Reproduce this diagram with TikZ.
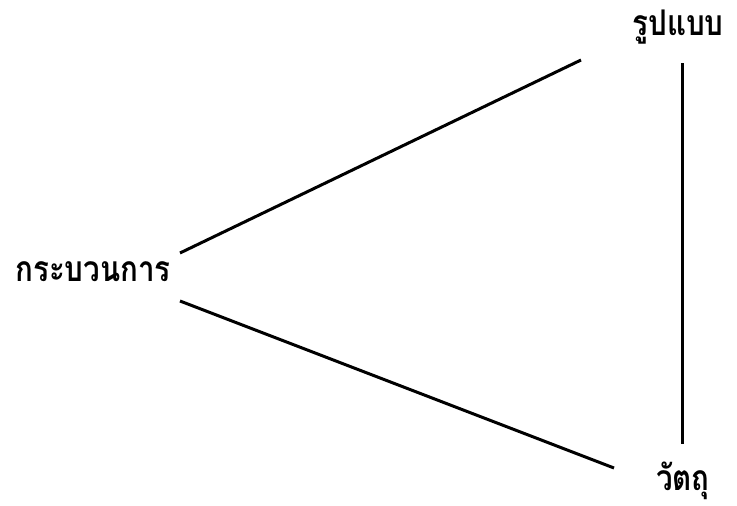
\documentclass[tikz,border=0pt]{standalone}
\usepackage{fontspec}
\newfontfamily\thaifont[Script=Thai]{Loma}
\begin{document}
\begin{tikzpicture}[x=1pt,y=-1pt,
  lbl/.style={font=\thaifont\bfseries\fontsize{29.5}{32}\selectfont, inner sep=0pt, anchor=center, yscale=1.2, transform shape},
  link/.style={line width=3pt}]
\useasboundingbox (0,0) rectangle (737,506);
\node[lbl] (form) at (678,27) {รูปแบบ};
\node[lbl] (proc) at (93,272) {กระบวนการ};
\node[lbl] (obj) at (683,481) {วัตถุ};
\coordinate (pTop) at (180,253);
\coordinate (pBot) at (180,301);
\coordinate (fEnd) at (581,60);
\coordinate (oEnd) at (614,468);
\coordinate (vTop) at (682,63);
\coordinate (vBot) at (682,444);
\draw[link] (pTop) -- (fEnd);
\draw[link] (pBot) -- (oEnd);
\draw[link] (vTop) -- (vBot);
\end{tikzpicture}
\end{document}
